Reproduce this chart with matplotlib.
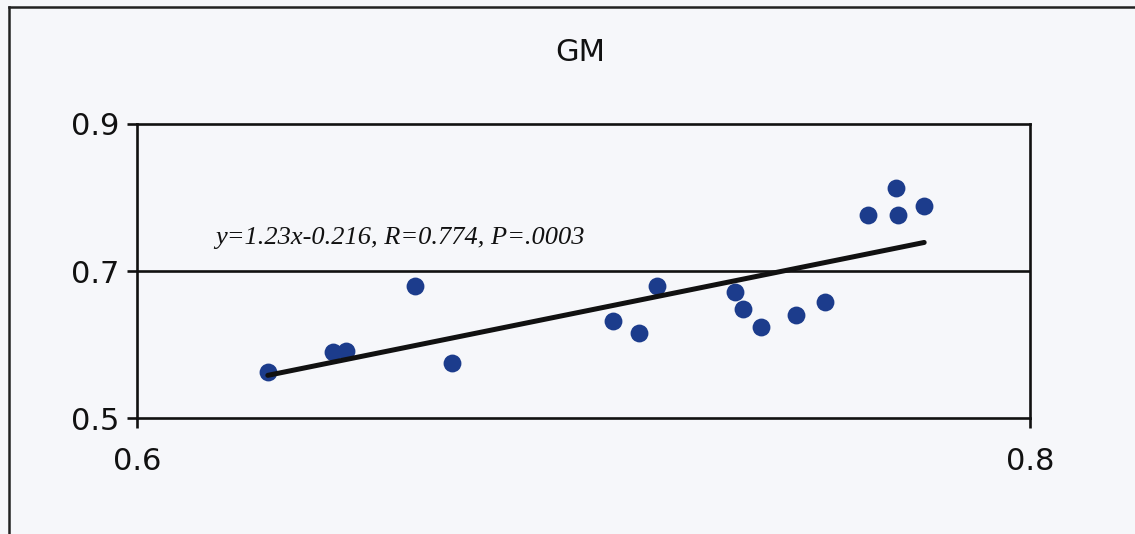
import matplotlib
matplotlib.use("Agg")
import matplotlib.pyplot as plt
from matplotlib.lines import Line2D

# Data
x_vals = [0.6293, 0.6439, 0.6468, 0.6623, 0.6705, 0.7066, 0.7124, 0.7165, 0.7339,
          0.7357, 0.7398, 0.7476, 0.7541, 0.7637, 0.7700, 0.7704, 0.7763]
y_vals = [0.5626, 0.5898, 0.5912, 0.6796, 0.5748, 0.6320, 0.6156, 0.6796, 0.6714,
          0.6483, 0.6238, 0.6401, 0.6578, 0.7762, 0.8129, 0.7762, 0.7884]
slope = 1.23
intercept = -0.216
fit_label = "y=1.23x-0.216, R=0.774, P=.0003"
title = "GM"
x_ticks = [0.6, 0.8]
y_ticks = [0.5, 0.7, 0.9]

bg = "#f6f7fa"
fig = plt.figure(figsize=(11.35, 5.34), dpi=100, facecolor=bg)
ax = fig.add_axes([0.1207, 0.2172, 0.7868, 0.5506])
ax.set_facecolor(bg)

ax.scatter(x_vals, y_vals, s=165, color="#1c3c8c", zorder=3, linewidths=0)
x0, x1 = min(x_vals), max(x_vals)
ax.plot([x0, x1], [slope * x0 + intercept, slope * x1 + intercept],
        color="#111111", lw=3.6, zorder=4, solid_capstyle="round")

ax.set_xlim(0.6, 0.8)
ax.set_ylim(0.5, 0.9)
ax.set_xticks(x_ticks)
ax.set_yticks(y_ticks)
ax.set_xticklabels([f"{v:.1f}" for v in x_ticks])
ax.set_yticklabels([f"{v:.1f}" for v in y_ticks])
ax.axhline(0.7, color="#111111", lw=1.9, zorder=2)
for s in ax.spines.values():
    s.set_linewidth(1.9)
    s.set_color("#111111")
ax.tick_params(axis="both", direction="out", length=7, width=1.9,
               labelsize=22, colors="#111111", pad=6)
ax.tick_params(axis="x", pad=14)

ax.text(0.6175, 0.745, fit_label, fontsize=19, style="italic",
        family="Liberation Serif", color="#111111", va="center", ha="left")

fig.text(0.511, 0.902, title, fontsize=22, ha="center", va="center", color="#111111")

# outer frame (left and top edges)
fig.add_artist(Line2D([0.008, 0.008], [0.0, 0.987], transform=fig.transFigure,
                      color="#222222", lw=1.8))
fig.add_artist(Line2D([0.008, 1.0], [0.987, 0.987], transform=fig.transFigure,
                      color="#222222", lw=1.8))

fig.savefig("out.png", dpi=100, facecolor=bg)
